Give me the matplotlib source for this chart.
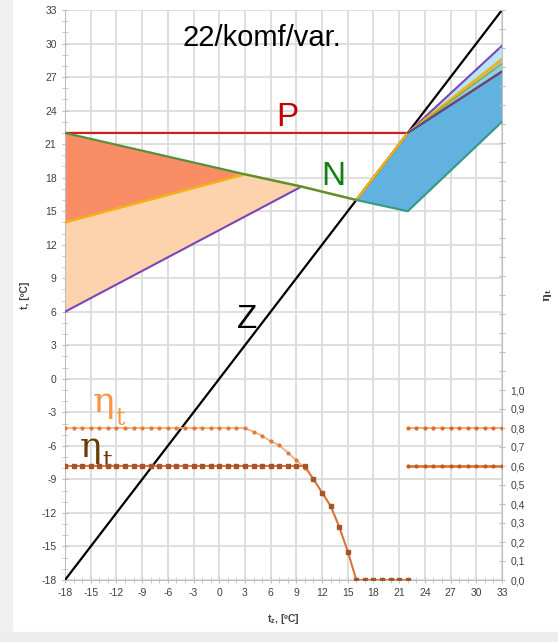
import numpy as np
import matplotlib
matplotlib.use("Agg")
from matplotlib import pyplot as plt
from matplotlib.patches import Rectangle
from matplotlib.ticker import MultipleLocator, FuncFormatter

plt.rcParams['font.family'] = ['Liberation Sans', 'DejaVu Sans']
plt.rcParams['mathtext.fontset'] = 'dejavuserif'
plt.rcParams['axes.unicode_minus'] = False

# temperature lines (t_z -> t)
z_x = [-18, 33]
z_y = [-18, 33]
p_x = [-18, 22, 33]
p_y = [22, 22, 27.5]
n_x = [-18, 3, 9.6, 16, 22, 33]
n_y = [22, 18.3, 17.2, 16.0, 15.0, 23.0]
yel_x = [-18, 3, 9.6, 16, 22, 33]
yel_y = [14, 18.3, 17.2, 16.0, 22, 28.6]
pur_x = [-18, 9.6]
pur_y = [6, 17.2]
pur2_x = [22, 33]
pur2_y = [22, 29.8]
grn2_x = [22, 33]
grn2_y = [22, 28.2]
sl_x = [22, 33]
sl_y = [22, 27.5]

# efficiency series
eta_x = list(range(-18, 23))
eta_hi = [0.8] * 22 + [0.78, 0.76, 0.73, 0.71, 0.67, 0.63, 0.59,
                       0.53, 0.46, 0.39, 0.28, 0.15, 0.0] + [0.0] * 6
eta_lo = [0.6] * 29 + [0.53, 0.46, 0.39, 0.28, 0.15, 0.0] + [0.0] * 6
eta_r_x = list(range(22, 34))
eta_r_hi = [0.8] * 12
eta_r_lo = [0.6] * 12

fig = plt.figure(figsize=(5.58, 6.42), dpi=100)
fig.patches.append(Rectangle((0, 0), 12 / 558, 1, transform=fig.transFigure,
                             color='#f0f0f0', zorder=-5))
fig.patches.append(Rectangle((0, 0), 1, 10 / 642, transform=fig.transFigure,
                             color='#ececec', zorder=-5))
ax = fig.add_axes([65 / 558, 1 - 580 / 642, 437 / 558, 570 / 642])
ax.set_xlim(-18, 33)
ax.set_ylim(-18, 33)

# fills
ax.fill([yel_x[0], yel_x[1], n_x[2], pur_x[1], pur_x[0]],
        [yel_y[0], yel_y[1], n_y[2], pur_y[1], pur_y[0]],
        color='#fcd3ad', lw=0, zorder=1)
ax.fill([n_x[0], n_x[1], yel_x[0]], [n_y[0], n_y[1], yel_y[0]],
        color='#f98d66', lw=0, zorder=1)
ax.fill([n_x[3], yel_x[4], sl_x[1], n_x[5], n_x[4]],
        [n_y[3], yel_y[4], sl_y[1], n_y[5], n_y[4]],
        color='#62b2df', lw=0, zorder=1)
ax.fill([22, 33, 33], [22, yel_y[5], sl_y[1]], color='#8fd0ec', lw=0, zorder=1)
ax.fill([22, 33, 33], [22, pur2_y[1], yel_y[5]], color='#b5e6f6', lw=0, zorder=1)

ax.plot(z_x, z_y, color='black', lw=1.6, zorder=3)
ax.plot(p_x, p_y, color='#cc1f1f', lw=1.6, zorder=3)
ax.plot(pur_x, pur_y, color='#7a45b8', lw=1.5, zorder=4)
ax.plot(pur2_x, pur2_y, color='#7a45b8', lw=1.5, zorder=4)
ax.plot(yel_x, yel_y, color='#f5b015', lw=1.8, zorder=4)
ax.plot(grn2_x, grn2_y, color='#8cb040', lw=1.2, zorder=4)
ax.plot(sl_x, sl_y, color='#5a4a8a', lw=1.4, zorder=4)
ax.plot(n_x[:4], n_y[:4], color='#55903a', lw=1.6, zorder=5)
ax.plot(n_x[3:], n_y[3:], color='#3a9a8a', lw=1.6, zorder=5)

ax.xaxis.set_major_locator(MultipleLocator(3))
ax.yaxis.set_major_locator(MultipleLocator(3))
ax.xaxis.set_minor_locator(MultipleLocator(1))
ax.yaxis.set_minor_locator(MultipleLocator(1))
ax.grid(True, which='major', color='#dcdcdc', lw=1.3, zorder=0)
ax.set_axisbelow(True)
ax.tick_params(which='major', direction='inout', length=5, color='#bfbfbf',
               labelsize=7.5, labelcolor='#404040')
ax.tick_params(which='minor', direction='inout', length=4, color='#bfbfbf')
for s in ['top', 'right']:
    ax.spines[s].set_visible(False)
for s in ['left', 'bottom']:
    ax.spines[s].set_color('#bfbfbf')

ax.set_ylabel('t, [ºC]', fontsize=7.5, fontweight='bold', color='#404040', labelpad=8)
ax.set_xlabel(r't$_\mathregular{z}$, [ºC]', fontsize=7.5, fontweight='bold',
              color='#404040', labelpad=10)

ax.text(5.0, 30.5, '22/komf/var.', fontsize=21, ha='center', va='center', zorder=6)
ax.text(7.9, 23.4, 'P', fontsize=24, color='#c00000', ha='center', va='center', zorder=6)
ax.text(13.3, 18.1, 'N', fontsize=24, color='#108010', ha='center', va='center', zorder=6)
ax.text(3.2, 5.3, 'Z', fontsize=24, color='black', ha='center', va='center', zorder=6)

# eta labels: greek letter plus a large subscript t
serif = ['DejaVu Serif']
ax.text(-14.8, -3.0, 'η', fontsize=26, family=serif, color='#f79646',
        ha='left', va='baseline', zorder=6)
ax.text(-12.1, -4.1, 't', fontsize=17, family=serif, color='#f79646',
        ha='left', va='baseline', zorder=6)
ax.text(-16.3, -7.0, 'η', fontsize=26, family=serif, color='#6b3a0a',
        ha='left', va='baseline', zorder=6)
ax.text(-13.6, -8.0, 't', fontsize=17, family=serif, color='#6b3a0a',
        ha='left', va='baseline', zorder=6)

ax2 = ax.twinx()
ax2.set_ylim(0, 3.0)
ax2.plot(eta_x, eta_hi, color='#f4a878', lw=1.2, marker='o', ms=2,
         mfc='#e07a3a', mec='#e07a3a', zorder=3)
ax2.plot(eta_x, eta_lo, color='#d8753a', lw=1.4, marker='s', ms=3,
         mfc='#a8542a', mec='#a8542a', zorder=4)
ax2.plot(eta_r_x, eta_r_hi, color='#f0a070', lw=1.2, marker='o', ms=2,
         mfc='#d86a2a', mec='#d86a2a', zorder=3)
ax2.plot(eta_r_x, eta_r_lo, color='#dd6e2c', lw=1.8, marker='o', ms=2,
         mfc='#c05a20', mec='#c05a20', zorder=4)
ax2.yaxis.set_major_locator(MultipleLocator(0.1))
ax2.yaxis.set_major_formatter(FuncFormatter(
    lambda v, pos: ('%.1f' % v).replace('.', ',') if v <= 1.0001 else ''))
ax2.tick_params(direction='inout', length=5, color='#bfbfbf',
                labelsize=7.5, labelcolor='#404040')
for s in ['top', 'left', 'bottom']:
    ax2.spines[s].set_visible(False)
ax2.spines['right'].set_color('#bfbfbf')
ax2.set_ylabel(r'$\mathbf{\eta_t}$', fontsize=8, color='#404040', labelpad=12)

fig.savefig('out.png', dpi=100)
